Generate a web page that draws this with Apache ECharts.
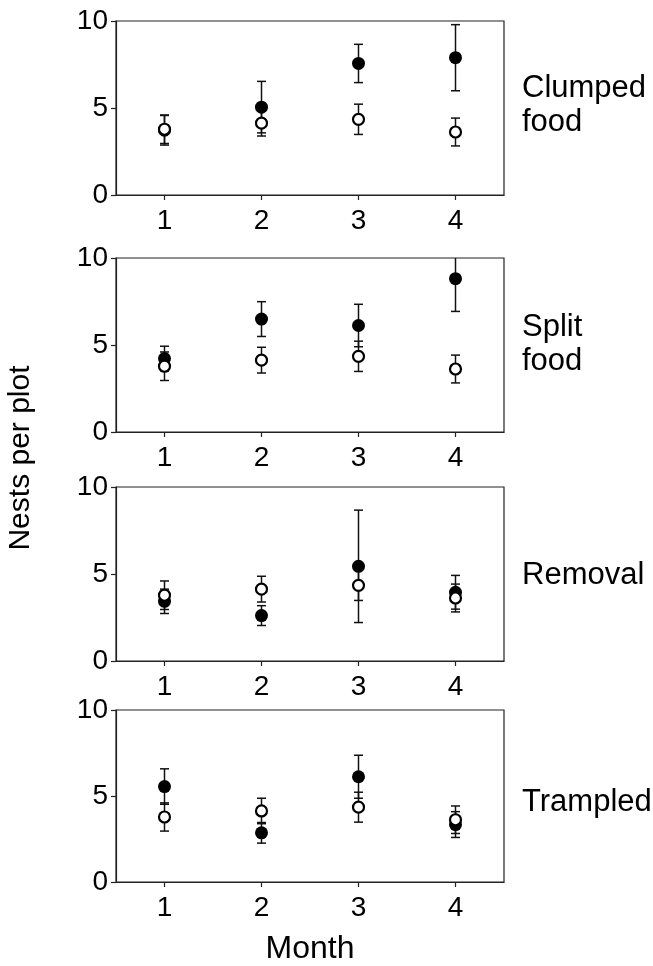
<!DOCTYPE html>
<html>
<head>
<meta charset="utf-8">
<script src="https://cdn.jsdelivr.net/npm/echarts@6/dist/echarts.min.js"></script>
<style>
  html, body { margin: 0; padding: 0; background: #fff; }
  #chart { width: 653px; height: 966px; }
</style>
</head>
<body>
<div id="chart"></div>
<script>
// months on the x axis, y ticks
const months = ['1', '2', '3', '4'];
const yTicks = [0, 5, 10];

// panel labels (right side)
const panelNames = ['Clumped\nfood', 'Split\nfood', 'Removal', 'Trampled'];

// open circles: control plots (same in every panel)
const controlMean = [3.78, 4.13, 4.35, 3.62];
const controlSE = [0.82, 0.74, 0.87, 0.80];

// filled circles: treatment plots
const clumpedMean = [3.72, 5.05, 7.56, 7.89];
const clumpedSE = [0.85, 1.48, 1.10, 1.90];
const splitMean = [4.22, 6.49, 6.12, 8.81];
const splitSE = [0.71, 1.00, 1.22, 1.88];
const removalMean = [3.43, 2.61, 5.44, 3.95];
const removalSE = [0.70, 0.57, 3.23, 0.97];
const trampledMean = [5.55, 2.86, 6.12, 3.34];
const trampledSE = [1.03, 0.60, 1.25, 0.75];

const treatMeans = [clumpedMean, splitMean, removalMean, trampledMean];
const treatSEs = [clumpedSE, splitSE, removalSE, trampledSE];

const FONT = '"Liberation Sans", Arial, Helvetica, sans-serif';
const gridTops = [21, 258, 487, 710];
const gridH = 174;
const labelCenters = [105, 344, 575, 802];

const chart = echarts.init(document.getElementById('chart'));

function errorSeries(gi, mean, se) {
    return {
        type: 'custom',
        xAxisIndex: gi,
        yAxisIndex: gi,
        silent: true,
        clip: true,
        data: mean.map((m, i) => [i, m - se[i], m + se[i]]),
        encode: { x: 0, y: [1, 2] },
        renderItem: (params, api) => {
            const lo = api.coord([api.value(0), api.value(1)]);
            const hi = api.coord([api.value(0), api.value(2)]);
            const hw = 4.5;
            const style = { stroke: '#111', lineWidth: 1.5 };
            return {
                type: 'group',
                children: [
                    { type: 'line', shape: { x1: lo[0], y1: lo[1], x2: hi[0], y2: hi[1] }, style },
                    { type: 'line', shape: { x1: lo[0] - hw, y1: lo[1], x2: lo[0] + hw, y2: lo[1] }, style },
                    { type: 'line', shape: { x1: hi[0] - hw, y1: hi[1], x2: hi[0] + hw, y2: hi[1] }, style }
                ]
            };
        }
    };
}

const grids = [], xAxes = [], yAxes = [], series = [];

gridTops.forEach((top, gi) => {
    grids.push({
        left: 116, width: 388, top: top, height: gridH,
        show: true, borderColor: '#222', borderWidth: 1.2,
        containLabel: false
    });
    xAxes.push({
        type: 'category',
        gridIndex: gi,
        data: months,
        boundaryGap: true,
        axisLine: { show: true, lineStyle: { color: '#222', width: 1.2 } },
        axisTick: { show: true, alignWithLabel: true, length: 5, lineStyle: { color: '#222', width: 1.2 } },
        axisLabel: { color: '#000', fontSize: 28, fontFamily: FONT, margin: 12 },
        splitLine: { show: false },
        name: gi === 3 ? 'Month' : '',
        nameLocation: 'middle',
        nameGap: 51,
        nameTextStyle: { color: '#000', fontSize: 32, fontFamily: FONT }
    });
    yAxes.push({
        type: 'value',
        gridIndex: gi,
        min: yTicks[0],
        max: yTicks[yTicks.length - 1],
        interval: yTicks[1] - yTicks[0],
        axisLine: { show: true, lineStyle: { color: '#222', width: 1.2 } },
        axisTick: { show: true, length: 5, lineStyle: { color: '#222', width: 1.2 } },
        axisLabel: { color: '#000', fontSize: 28, fontFamily: FONT, margin: 8 },
        splitLine: { show: false }
    });

    // filled (treatment) first, open (control) on top
    series.push(errorSeries(gi, treatMeans[gi], treatSEs[gi]));
    series.push({
        type: 'scatter',
        xAxisIndex: gi, yAxisIndex: gi,
        data: treatMeans[gi],
        symbol: 'circle',
        symbolSize: 13,
        itemStyle: { color: '#000', opacity: 1 },
        silent: true
    });
    series.push(errorSeries(gi, controlMean, controlSE));
    series.push({
        type: 'scatter',
        xAxisIndex: gi, yAxisIndex: gi,
        data: controlMean,
        symbol: 'circle',
        symbolSize: 11,
        itemStyle: { color: '#fff', borderColor: '#000', borderWidth: 2.2, opacity: 1 },
        silent: true
    });
});

const graphics = panelNames.map((name, i) => ({
    type: 'text',
    x: 522,
    y: labelCenters[i],
    style: {
        text: name,
        fontSize: 31,
        fontFamily: FONT,
        lineHeight: 34,
        fill: '#000',
        textAlign: 'left',
        textVerticalAlign: 'middle'
    }
}));

graphics.push({
    type: 'text',
    x: 21,
    y: 458,
    rotation: Math.PI / 2,
    style: {
        text: 'Nests per plot',
        fontSize: 30,
        fontFamily: FONT,
        fill: '#000',
        textAlign: 'center',
        textVerticalAlign: 'middle'
    }
});

chart.setOption({
    animation: false,
    backgroundColor: '#fff',
    grid: grids,
    xAxis: xAxes,
    yAxis: yAxes,
    series: series,
    graphic: graphics
});
</script>
</body>
</html>
